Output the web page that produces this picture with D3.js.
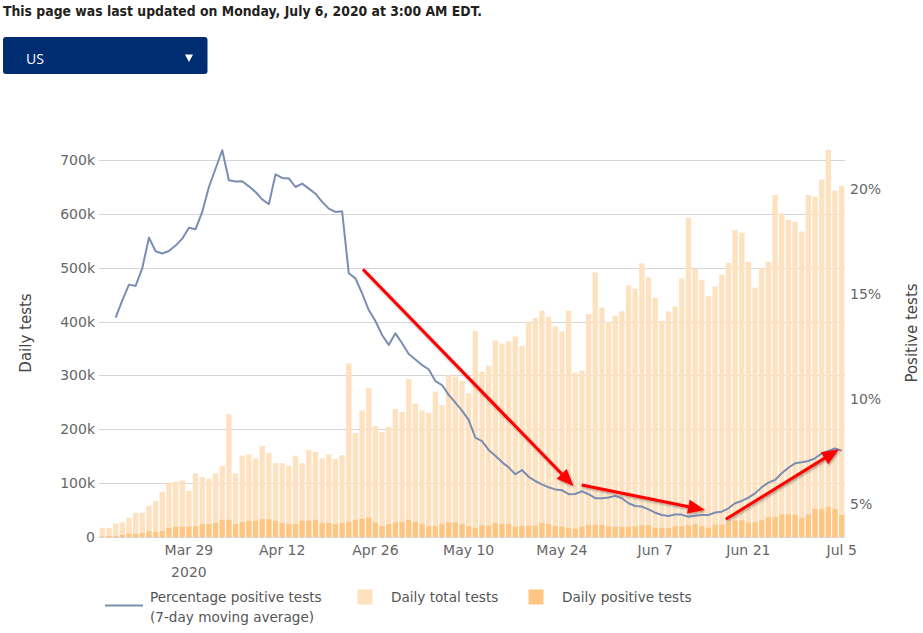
<!DOCTYPE html>
<html lang="en">
<head>
<meta charset="utf-8">
<title>Testing trends - US</title>
<script src="https://d3js.org/d3.v7.min.js"></script>
<style>
  html, body { margin: 0; padding: 0; background: #fff; }
  svg { display: block; }
</style>
</head>
<body>
<div id="chart"></div>
<script>
// day categories: Mar 16 .. Jul 5, 2020
var days = d3.timeDay.range(new Date(2020, 2, 16), new Date(2020, 6, 6));

// daily total tests (thousands)
var totalTests = [
  17, 17, 25, 27, 36, 45, 45, 58, 67, 84, 101, 103, 105, 86, 118, 111, 108, 118, 132, 228,
  118, 151, 153, 146, 169, 156, 137, 137, 132, 151, 137, 162, 158, 146, 153, 145, 152, 322,
  193, 235, 277, 206, 195, 205, 238, 232, 293, 248, 235, 231, 270, 245, 301, 298, 290, 267,
  382, 307, 318, 365, 359, 363, 372, 355, 400, 407, 420, 409, 391, 382, 420, 305, 309, 414,
  491, 426, 399, 411, 419, 467, 461, 508, 482, 444, 401, 419, 428, 480, 593, 498, 477, 447,
  465, 487, 509, 570, 565, 511, 463, 500, 511, 635, 601, 589, 585, 567, 635, 632, 664, 719,
  643, 652
];

// daily positive tests (thousands)
var positiveTests = [
  1, 2, 2, 4, 6, 6, 7, 11, 9, 11, 17, 19, 19, 19, 20, 24, 24, 26, 32, 32,
  24, 28, 30, 30, 33, 33, 30, 26, 24, 24, 30, 30, 32, 26, 26, 24, 26, 28,
  32, 34, 36, 27, 20, 24, 27, 28, 32, 28, 24, 20, 20, 24, 27, 27, 24, 20,
  17, 22, 21, 26, 24, 24, 19, 21, 21, 21, 26, 24, 20, 19, 17, 15, 19, 22,
  23, 22, 20, 19, 19, 19, 20, 22, 22, 17, 17, 17, 20, 20, 22, 24, 20, 17,
  23, 23, 27, 31, 31, 27, 27, 31, 37, 37, 42, 42, 41, 35, 42, 52, 52, 56,
  52, 41
];

// percentage positive tests, 7-day moving average
var pctPositive = [
  null, null, 13.89, 14.71, 15.46, 15.40, 16.25, 17.70, 17.05, 16.94, 17.06, 17.32, 17.65, 18.17,
  18.10, 18.92, 20.11, 20.98, 21.86, 20.43, 20.37, 20.38, 20.14, 19.87, 19.52, 19.29, 20.71, 20.54,
  20.52, 20.11, 20.27, 20.03, 19.79, 19.40, 19.08, 18.92, 18.95, 16.00, 15.76, 15.05, 14.25, 13.73,
  13.06, 12.59, 13.14, 12.67, 12.16, 11.90, 11.63, 11.43, 10.87, 10.68, 10.21, 9.84, 9.46, 9.02,
  8.17, 8.01, 7.59, 7.31, 7.01, 6.76, 6.43, 6.63, 6.31, 6.11, 5.95, 5.81, 5.71, 5.67, 5.48, 5.49,
  5.62, 5.48, 5.29, 5.29, 5.32, 5.40, 5.29, 5.05, 4.92, 4.89, 4.76, 4.60, 4.49, 4.44, 4.51, 4.51,
  4.41, 4.45, 4.49, 4.49, 4.61, 4.65, 4.81, 5.05, 5.16, 5.32, 5.52, 5.81, 6.03, 6.16, 6.48, 6.74,
  6.95, 7.00, 7.06, 7.19, 7.42, 7.54, 7.66, 7.55
];

var leftTicks = [0, 100000, 200000, 300000, 400000, 500000, 600000, 700000];
var rightTicks = [5, 10, 15, 20];
var xTickDays = [13, 27, 41, 55, 69, 83, 97, 111];

// red annotation arrows, [day position, percent]
var arrows = [
  [[39.13, 16.19], [70.74, 5.87]],
  [[71.97, 5.92], [90.48, 4.73]],
  [[93.6, 4.29], [110.6, 7.62]]
];

var w = 923, h = 633;
var plot = { left: 99, right: 845, top: 146, bottom: 537 };

var svg = d3.select("#chart").append("svg")
  .attr("width", w).attr("height", h)
  .attr("font-family", "'DejaVu Sans', Verdana, sans-serif");

var defs = svg.append("defs");
var shadow = defs.append("filter").attr("id", "shadow")
  .attr("x", "-20%").attr("y", "-20%").attr("width", "140%").attr("height", "140%");
shadow.append("feDropShadow").attr("dx", 1).attr("dy", 1.5)
  .attr("stdDeviation", 1).attr("flood-color", "#000").attr("flood-opacity", 0.35);

// header
svg.append("text")
  .attr("x", 3).attr("y", 15.5)
  .attr("font-family", "'DejaVu Sans', sans-serif")
  .attr("font-weight", 700).attr("font-size", 13.5)
  .attr("fill", "#231f1c")
  .attr("textLength", 479).attr("lengthAdjust", "spacingAndGlyphs")
  .text("This page was last updated on Monday, July 6, 2020 at 3:00 AM EDT.");

// dropdown
var dd = svg.append("g");
dd.append("rect").attr("x", 3).attr("y", 37).attr("width", 204.5).attr("height", 37)
  .attr("rx", 3).attr("fill", "#002d72");
dd.append("text").attr("x", 26).attr("y", 64)
  .attr("font-family", "'Open Sans', sans-serif").attr("font-size", 14)
  .attr("fill", "#fff").text("US");
dd.append("path").attr("d", "M185,54.5 L193,54.5 L189,62 Z").attr("fill", "#fff");

// scales
var x = d3.scaleBand()
  .domain(d3.range(days.length))
  .range([plot.left, plot.right])
  .paddingInner(0.2).paddingOuter(0.1);

var yLeft = d3.scaleLinear().domain([0, 700000]).range([537, 160]);
var yRight = d3.scaleLinear().domain([5, 20]).range([504.3, 189.3]);

// gridlines
svg.append("g").selectAll("line")
  .data(leftTicks).enter().append("line")
  .attr("x1", plot.left).attr("x2", plot.right)
  .attr("y1", function(d) { return Math.round(yLeft(d)) + 0.5; })
  .attr("y2", function(d) { return Math.round(yLeft(d)) + 0.5; })
  .attr("stroke", "#d6d6d6").attr("stroke-width", 1);

// left axis
var leftAxis = svg.append("g")
  .attr("transform", "translate(" + (plot.left - 4) + ",0)")
  .call(d3.axisLeft(yLeft).tickValues(leftTicks).tickSize(0).tickPadding(0)
    .tickFormat(function(d) { return d === 0 ? "0" : (d / 1000) + "k"; }));
leftAxis.select(".domain").remove();
leftAxis.selectAll("text").attr("font-size", 14).attr("fill", "#666")
  .attr("font-family", "'DejaVu Sans', Verdana, sans-serif");

// right axis
var rightAxis = svg.append("g")
  .attr("transform", "translate(" + (plot.right + 5) + ",0)")
  .call(d3.axisRight(yRight).tickValues(rightTicks).tickSize(0).tickPadding(0)
    .tickFormat(function(d) { return d + "%"; }));
rightAxis.select(".domain").remove();
rightAxis.selectAll("text").attr("font-size", 14).attr("fill", "#666")
  .attr("font-family", "'DejaVu Sans', Verdana, sans-serif");

// bottom axis
var fmt = d3.timeFormat("%b %-d");
var bottomAxis = svg.append("g")
  .attr("transform", "translate(0," + plot.bottom + ")")
  .call(d3.axisBottom(x).tickValues(xTickDays).tickSize(0).tickPadding(8)
    .tickFormat(function(i) { return fmt(days[i]); }));
bottomAxis.select(".domain").remove();
bottomAxis.selectAll("text").attr("font-size", 14).attr("fill", "#666")
  .attr("font-family", "'DejaVu Sans', Verdana, sans-serif");
svg.append("text")
  .attr("x", x(xTickDays[0]) + x.bandwidth() / 2).attr("y", 577)
  .attr("text-anchor", "middle").attr("font-size", 14).attr("fill", "#666")
  .text("2020");

// axis titles
svg.append("text")
  .attr("transform", "translate(31,333) rotate(-90)")
  .attr("text-anchor", "middle").attr("font-size", 15).attr("fill", "#444")
  .text("Daily tests");
svg.append("text")
  .attr("transform", "translate(917,333) rotate(-90)")
  .attr("text-anchor", "middle").attr("font-size", 15).attr("fill", "#444")
  .text("Positive tests");

// bars
var barsTotal = svg.append("g");
barsTotal.selectAll("rect")
  .data(totalTests).enter().append("rect")
  .attr("x", function(d, i) { return x(i); })
  .attr("width", x.bandwidth())
  .attr("y", function(d) { return yLeft(d * 1000); })
  .attr("height", function(d) { return yLeft(0) - yLeft(d * 1000); })
  .attr("fill", "#fee1bf");

var barsPos = svg.append("g");
barsPos.selectAll("rect")
  .data(positiveTests).enter().append("rect")
  .attr("x", function(d, i) { return x(i); })
  .attr("width", x.bandwidth())
  .attr("y", function(d) { return yLeft(d * 1000); })
  .attr("height", function(d) { return yLeft(0) - yLeft(d * 1000); })
  .attr("fill", "#fec682");

// percentage line
var line = d3.line()
  .defined(function(d) { return d !== null; })
  .x(function(d, i) { return x(i) + x.bandwidth() / 2; })
  .y(function(d) { return yRight(d); });

svg.append("path")
  .datum(pctPositive)
  .attr("d", line)
  .attr("fill", "none")
  .attr("stroke", "#7a8db3")
  .attr("stroke-width", 2)
  .attr("stroke-linejoin", "round");

// arrows
function posX(p) { return plot.left + x.step() * (0.1 + p + 0.4); }
var arrowG = svg.append("g").attr("filter", "url(#shadow)");
arrows.forEach(function(a) {
  var x0 = posX(a[0][0]), y0 = yRight(a[0][1]);
  var x1 = posX(a[1][0]), y1 = yRight(a[1][1]);
  var ang = Math.atan2(y1 - y0, x1 - x0);
  var hl = 17, hw = 7;
  var bx = x1 - hl * Math.cos(ang), by = y1 - hl * Math.sin(ang);
  arrowG.append("line")
    .attr("x1", x0).attr("y1", y0)
    .attr("x2", bx + 3 * Math.cos(ang)).attr("y2", by + 3 * Math.sin(ang))
    .attr("stroke", "#ff0000").attr("stroke-width", 3);
  var px = -Math.sin(ang), py = Math.cos(ang);
  arrowG.append("path")
    .attr("d", "M" + x1 + "," + y1 +
      "L" + (bx + hw * px) + "," + (by + hw * py) +
      "L" + (bx - hw * px) + "," + (by - hw * py) + "Z")
    .attr("fill", "#ff0000");
});

// legend
var lg = svg.append("g").attr("font-size", 13.6).attr("fill", "#555");
lg.append("line").attr("x1", 105).attr("x2", 143).attr("y1", 605.5).attr("y2", 605.5)
  .attr("stroke", "#7a8db3").attr("stroke-width", 2);
lg.append("text").attr("x", 150).attr("y", 601.5).text("Percentage positive tests");
lg.append("text").attr("x", 150).attr("y", 621.5).text("(7-day moving average)");
lg.append("rect").attr("x", 357.5).attr("y", 589.5).attr("width", 15).attr("height", 15)
  .attr("fill", "#fee1bf");
lg.append("text").attr("x", 391).attr("y", 601.5).text("Daily total tests");
lg.append("rect").attr("x", 528.5).attr("y", 589.5).attr("width", 15).attr("height", 15)
  .attr("fill", "#fec682");
lg.append("text").attr("x", 562).attr("y", 601.5).text("Daily positive tests");
</script>
</body>
</html>
